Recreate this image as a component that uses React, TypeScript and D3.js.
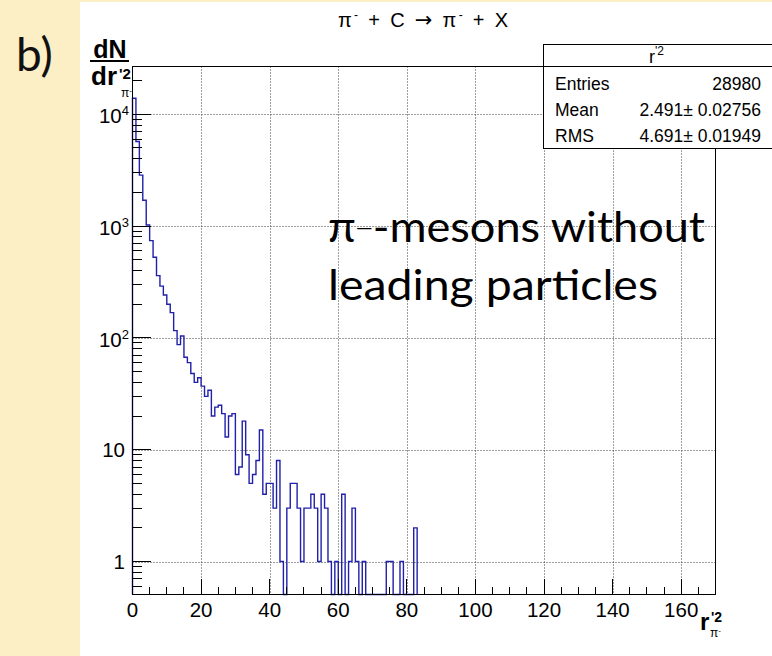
import React from 'react';
import * as d3 from 'd3';

// histogram r'^2 of pi- : bins of width 1 starting at 0
const binStart = 0;
const binWidth = 1;
const counts = [
  13900, 5700, 2850, 1700, 1020, 740, 525, 360, 290, 242,
  200, 168, 116, 87, 104, 67, 60, 48, 40, 44,
  37, 30, 34, 20, 24, 25, 21, 13, 20, 21,
  6, 7, 18, 9, 5, 6, 8, 15, 4, 5,
  5, 3, 8, 1, 0, 3, 5, 5, 3, 1,
  3, 3, 4, 3, 1, 4, 3, 1, 0, 1,
  0, 4, 0, 1, 3, 1, 0, 1, 0, 0,
  0, 0, 0, 0, 1, 1, 0, 0, 1, 0,
  0, 0, 2,
];

const xDomain = [0, 170];
const yDomain = [0.507, 26700];
const xMajorTicks = [0, 20, 40, 60, 80, 100, 120, 140, 160];
const yDecades = [1, 10, 100, 1000, 10000];
const yLabelsBase = ['1', '10', '10', '10', '10'];
const yLabelsExp = ['', '', '2', '3', '4'];

const statNames = ['Entries', 'Mean', 'RMS'];
const statValues = ['28980', '2.491\u00B1 0.02756', '4.691\u00B1 0.01949'];

const W = 772;
const H = 656;
const frame = { left: 132.5, right: 715.5, top: 66.5, bottom: 594.5 };
const axisFont = 'Liberation Sans, Arial, Helvetica, sans-serif';
const slideFont = 'Lato, "Open Sans", sans-serif';

export default function App() {
  const x = d3.scaleLinear().domain(xDomain).range([frame.left, frame.right]);
  const y = d3.scaleLog().domain(yDomain).range([frame.bottom, frame.top]);

  const yOf = (v: number) =>
    v > 0 ? Math.max(frame.top, Math.min(frame.bottom, y(v))) : frame.bottom;

  // step outline like ROOT's default histogram drawing
  const pts: [number, number][] = [[x(binStart), frame.bottom]];
  counts.forEach((c, i) => {
    const x0 = x(binStart + i * binWidth);
    const x1 = x(binStart + (i + 1) * binWidth);
    pts.push([x0, yOf(c)]);
    pts.push([x1, yOf(c)]);
  });
  pts.push([x(binStart + counts.length * binWidth), frame.bottom]);
  const histPath = d3.line()(pts) || '';

  // minor ticks
  const xMinor = d3.range(0, 170, 5).filter(v => v % 20 !== 0);
  const yMinor: number[] = [];
  for (let e = -1; e <= 4; e++) {
    for (let m = 2; m <= 9; m++) {
      const v = m * Math.pow(10, e);
      if (v >= yDomain[0] && v <= yDomain[1]) yMinor.push(v);
    }
  }

  return (
    <svg
      width={W}
      height={H}
      style={{ position: 'absolute', left: 0, top: 0, display: 'block' }}
    >
      {/* slide background */}
      <rect x={0} y={0} width={W} height={H} fill="#fcefc6" />
      <rect x={80} y={2} width={W - 80} height={H - 2} fill="#ffffff" />
      <text x={16} y={71} fontFamily={slideFont} fontSize={46} fill="#111">
        b)
      </text>

      {/* grid */}
      <g stroke="#3a3a3a" strokeWidth={1} strokeDasharray="1 2">
        {xMajorTicks
          .filter(v => v > 0)
          .map(v => (
            <line key={'gx' + v} x1={Math.round(x(v)) + 0.5} x2={Math.round(x(v)) + 0.5} y1={frame.top} y2={frame.bottom} />
          ))}
        {yDecades.map(v => (
          <line key={'gy' + v} x1={frame.left} x2={frame.right} y1={Math.round(y(v)) + 0.5} y2={Math.round(y(v)) + 0.5} />
        ))}
      </g>

      {/* histogram */}
      <path d={histPath} fill="none" stroke="#2020aa" strokeWidth={1.4} />

      {/* frame */}
      <rect
        x={frame.left}
        y={frame.top}
        width={frame.right - frame.left}
        height={frame.bottom - frame.top}
        fill="none"
        stroke="#000"
        strokeWidth={1}
      />

      {/* ticks */}
      <g stroke="#000" strokeWidth={1} shapeRendering="crispEdges">
        {xMajorTicks.map(v => (
          <line key={'tx' + v} x1={x(v)} x2={x(v)} y1={frame.bottom} y2={frame.bottom - 16} />
        ))}
        {xMinor.map(v => (
          <line key={'mx' + v} x1={x(v)} x2={x(v)} y1={frame.bottom} y2={frame.bottom - 8} />
        ))}
        {yDecades.map(v => (
          <line key={'ty' + v} x1={frame.left} x2={frame.left + 18} y1={y(v)} y2={y(v)} />
        ))}
        {yMinor.map(v => (
          <line key={'my' + v} x1={frame.left} x2={frame.left + 9} y1={y(v)} y2={y(v)} />
        ))}
      </g>

      {/* tick labels */}
      <g fontFamily={axisFont} fontSize={20.5} fill="#000">
        {xMajorTicks.map(v => (
          <text key={'lx' + v} x={x(v)} y={617} textAnchor="middle">
            {v}
          </text>
        ))}
        {yDecades.map((v, i) =>
          yLabelsExp[i] ? (
            <text key={'ly' + v} x={129} y={y(v) + 9} textAnchor="end">
              {yLabelsBase[i]}
              <tspan dy={-8} fontSize={13}>
                {yLabelsExp[i]}
              </tspan>
            </text>
          ) : (
            <text key={'ly' + v} x={125} y={y(v) + 7} textAnchor="end">
              {yLabelsBase[i]}
            </text>
          )
        )}
      </g>

      {/* title */}
      <text
        x={338}
        y={27}
        fontFamily={axisFont}
        fontSize={20}
        textLength={170}
        lengthAdjust="spacing"
      >
        π<tspan dy={-8} fontSize={12}>-</tspan>
        <tspan dy={8}> + C </tspan>
        <tspan fontFamily="DejaVu Sans" fontSize={21}>→</tspan>
        <tspan> π</tspan>
        <tspan dy={-8} fontSize={12}>-</tspan>
        <tspan dy={8}> + X</tspan>
      </text>

      {/* y axis title */}
      <g fontFamily={axisFont} fontWeight="bold" fill="#000">
        <text x={110} y={58} textAnchor="middle" fontSize={25}>dN</text>
        <line x1={90} x2={129} y1={61} y2={61} stroke="#000" strokeWidth={2} />
        <text x={91} y={85} fontSize={26}>dr</text>
        <text x={119} y={79} fontSize={15}>'2</text>
        <text x={121} y={97} fontSize={12} fontWeight="normal">
          π<tspan dy={-4} fontSize={8}>-</tspan>
        </text>
      </g>

      {/* x axis title */}
      <g fontFamily={axisFont} fontWeight="bold" fill="#000">
        <text x={700} y={630} fontSize={24}>r</text>
        <text x={711} y={622} fontSize={14}>'2</text>
        <text x={710} y={637} fontSize={12} fontWeight="normal">
          π<tspan dy={-4} fontSize={8}>-</tspan>
        </text>
      </g>

      {/* stats box */}
      <g fontFamily={axisFont} fill="#000">
        <rect x={543.5} y={44.5} width={240} height={104} fill="#fff" stroke="#000" strokeWidth={1} />
        <line x1={543.5} x2={W} y1={frame.top} y2={frame.top} stroke="#000" strokeWidth={1} />
        <text x={649} y={63} fontSize={18}>
          r<tspan dy={-8} fontSize={12}>'2</tspan>
        </text>
        {statNames.map((n, i) => (
          <g key={n}>
            <text x={555} y={89.5 + i * 26} fontSize={17.5}>
              {n}
            </text>
            <text x={761} y={89.5 + i * 26} fontSize={17.5} textAnchor="end">
              {statValues[i]}
            </text>
          </g>
        ))}
      </g>

      {/* slide annotation */}
      <g fontFamily={slideFont} fontSize={42} fill="#000">
        <text x={328} y={242} textLength={377} lengthAdjust="spacingAndGlyphs">
          π<tspan dy={-8} fontSize={20}>—</tspan>
          <tspan dy={8}>-mesons without</tspan>
        </text>
        <text x={328} y={300} textLength={330} lengthAdjust="spacingAndGlyphs">
          leading particles
        </text>
      </g>
    </svg>
  );
}
